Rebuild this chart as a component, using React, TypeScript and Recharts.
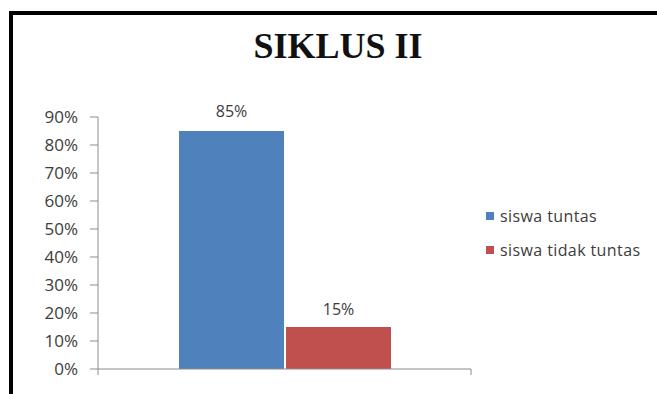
import { BarChart, Bar, XAxis, YAxis, LabelList } from 'recharts'

const categories = ['SIKLUS II']
const tuntas = [85]
const tidakTuntas = [15]
const yTicks = [0, 10, 20, 30, 40, 50, 60, 70, 80, 90]
const seriesNames = ['siswa tuntas', 'siswa tidak tuntas']

const BLUE = '#4F81BD'
const RED = '#C0504D'
const TEXT = '#3c3c3c'
const AXIS = '#8c8c8c'
const FONT = '"Open Sans", Calibri, sans-serif'

const data = categories.map((c, i) => ({
  name: c,
  tuntas: tuntas[i],
  tidakTuntas: tidakTuntas[i],
}))

const pct = (v: number) => `${v}%`

function LegendBox() {
  const colors = [BLUE, RED]
  return (
    <div
      style={{
        position: 'absolute',
        left: 486,
        top: 199,
        fontFamily: FONT,
        fontSize: 16,
        color: TEXT,
        letterSpacing: 0.4,
      }}
    >
      {seriesNames.map((n, i) => (
        <div key={n} style={{ display: 'flex', alignItems: 'center', height: 34 }}>
          <span style={{ width: 8, height: 8, background: colors[i], marginRight: 6 }} />
          <span>{n}</span>
        </div>
      ))}
    </div>
  )
}

// Excel puts the category ticks on the band edges, not the centre
function EdgeTicks(props: any) {
  const { x, y, payload } = props
  const half = payload?.offset ?? 0
  return (
    <g stroke={AXIS}>
      <line x1={x - half} x2={x - half} y1={y - 6} y2={y} />
      <line x1={x + half} x2={x + half} y1={y - 6} y2={y} />
    </g>
  )
}

export default function App() {
  return (
    <div
      style={{
        position: 'fixed',
        left: 0,
        top: 0,
        width: 657,
        height: 394,
        background: '#fff',
        overflow: 'hidden',
      }}
    >
      <div
        style={{
          position: 'absolute',
          left: 9,
          top: 11,
          width: 720,
          height: 460,
          border: '4px solid #000',
        }}
      />
      <div
        style={{
          position: 'absolute',
          left: 0,
          width: 676,
          top: 26,
          textAlign: 'center',
          fontFamily: '"Liberation Serif", "Times New Roman", serif',
          fontWeight: 'bold',
          fontSize: 36,
          lineHeight: '40px',
          color: '#111',
        }}
      >
        SIKLUS II
      </div>
      <div style={{ position: 'absolute', left: 0, top: 0 }}>
        <BarChart
          width={657}
          height={394}
          data={data}
          margin={{ top: 117, right: 186, left: 0, bottom: 0 }}
          barSize={105}
          barGap={2}
        >
          <XAxis
            dataKey="name"
            height={25}
            stroke={AXIS}
            tickLine={false}
            tickMargin={0}
            tick={<EdgeTicks />}
          />
          <YAxis
            width={98}
            domain={[0, 90]}
            ticks={yTicks}
            tickFormatter={pct}
            tickSize={8}
            tickMargin={12}
            stroke={AXIS}
            tick={{ fill: TEXT, fontSize: 17, fontFamily: FONT }}
            interval={0}
          />
          <Bar dataKey="tuntas" name={seriesNames[0]} fill={BLUE} isAnimationActive={false}>
            <LabelList
              dataKey="tuntas"
              position="top"
              offset={14}
              formatter={pct}
              fill={TEXT}
              fontSize={16}
              fontFamily={FONT}
            />
          </Bar>
          <Bar dataKey="tidakTuntas" name={seriesNames[1]} fill={RED} isAnimationActive={false}>
            <LabelList
              dataKey="tidakTuntas"
              position="top"
              offset={12}
              formatter={pct}
              fill={TEXT}
              fontSize={16}
              fontFamily={FONT}
            />
          </Bar>
        </BarChart>
      </div>
      <LegendBox />
    </div>
  )
}
